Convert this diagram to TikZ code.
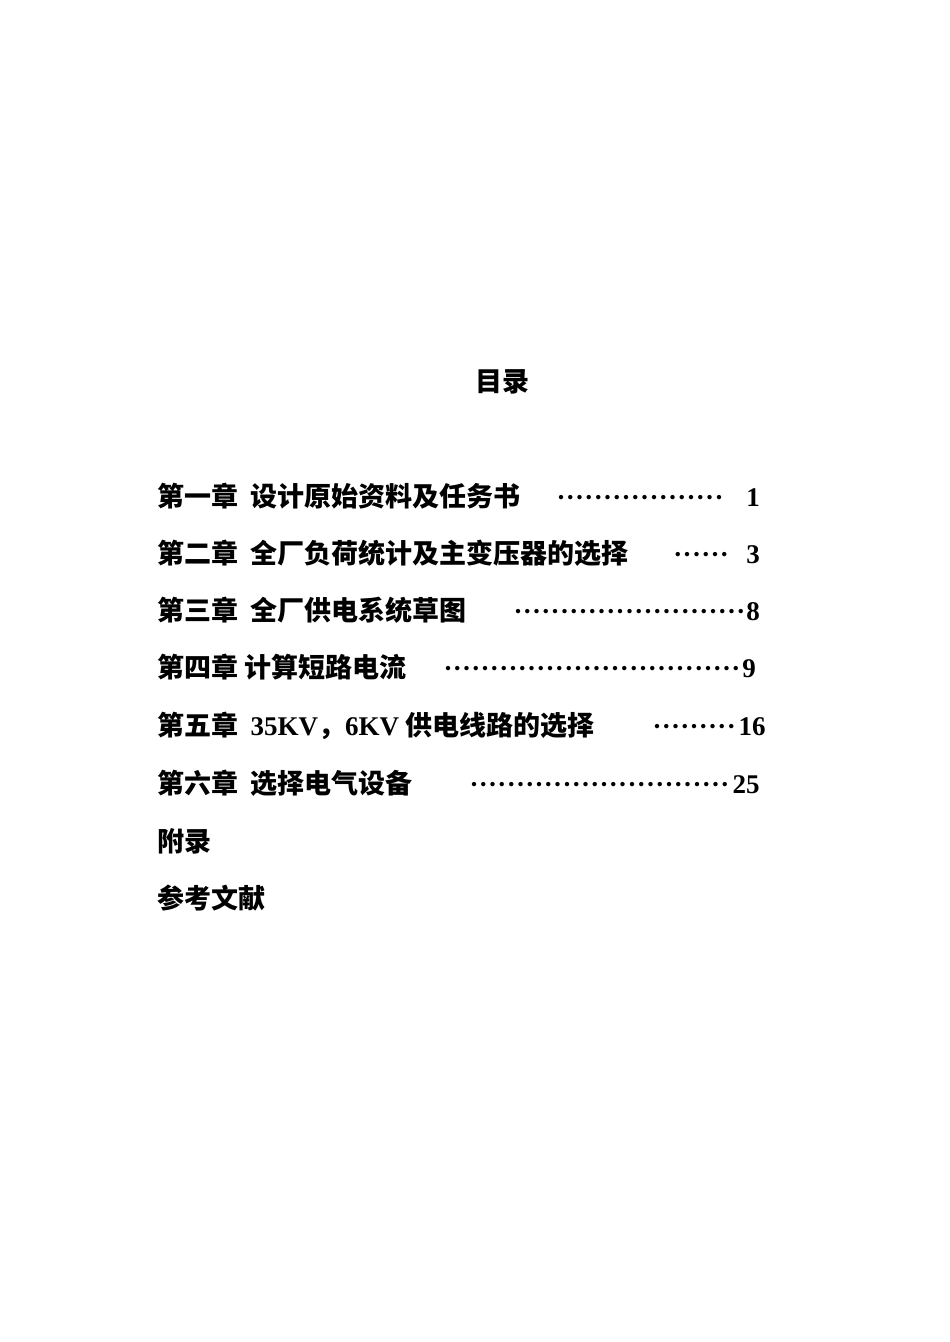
\documentclass[tikz,border=0pt]{standalone}
\usepackage{fontspec}
\setmainfont{Liberation Serif}[BoldFont={Liberation Serif Bold}]
\newfontfamily\cjk{Noto Sans CJK SC Bold}
\tikzset{x=1pt,y=-1pt,
 tl/.style={anchor=base west,inner sep=0pt,font=\fontsize{27}{27}\selectfont\bfseries},
 num/.style={anchor=base,inner sep=0pt,font=\fontsize{27}{27}\selectfont\bfseries}}
\newcommand{\dotrow}[1]{\makebox[#1pt][s]{\cleaders\hbox to 9.3pt{\hss\bfseries·\hss}\hfill}}
\begin{document}
\begin{tikzpicture}
\useasboundingbox (0,0) rectangle (950,1342);
\node[tl,anchor=base] (t) at (502,391) {\cjk 目录};
\node[tl] (l1) at (157,506) {\cjk 第一章\ \ 设计原始资料及任务书};
\node[tl] (d1) at (553,506) {\dotrow{174}};
\node[num] (n1) at (753,506) {1};
\node[tl] (l2) at (157,563) {\cjk 第二章\ \ 全厂负荷统计及主变压器的选择};
\node[tl] (d2) at (673,563) {\dotrow{56}};
\node[num] (n2) at (753,563) {3};
\node[tl] (l3) at (157,620) {\cjk 第三章\ \ 全厂供电系统草图};
\node[tl] (d3) at (513,620) {\dotrow{233}};
\node[num] (n3) at (753,620) {8};
\node[tl] (l4) at (157,677) {\cjk 第四章\ 计算短路电流};
\node[tl] (d4) at (443,677) {\dotrow{298}};
\node[num] (n4) at (749,677) {9};
\node[tl] (l5) at (157,735) {\cjk 第五章\ \ {\rmfamily 35KV}，{\rmfamily 6KV} 供电线路的选择};
\node[tl] (d5) at (651,735) {\dotrow{86}};
\node[num] (n5) at (752,735) {16};
\node[tl] (l6) at (157,793) {\cjk 第六章\ \ 选择电气设备};
\node[tl] (d6) at (469,793) {\dotrow{261}};
\node[num] (n6) at (746,793) {25};
\node[tl] (l7) at (157,851) {\cjk 附录};
\node[tl] (l8) at (157,908) {\cjk 参考文献};
\end{tikzpicture}
\end{document}
